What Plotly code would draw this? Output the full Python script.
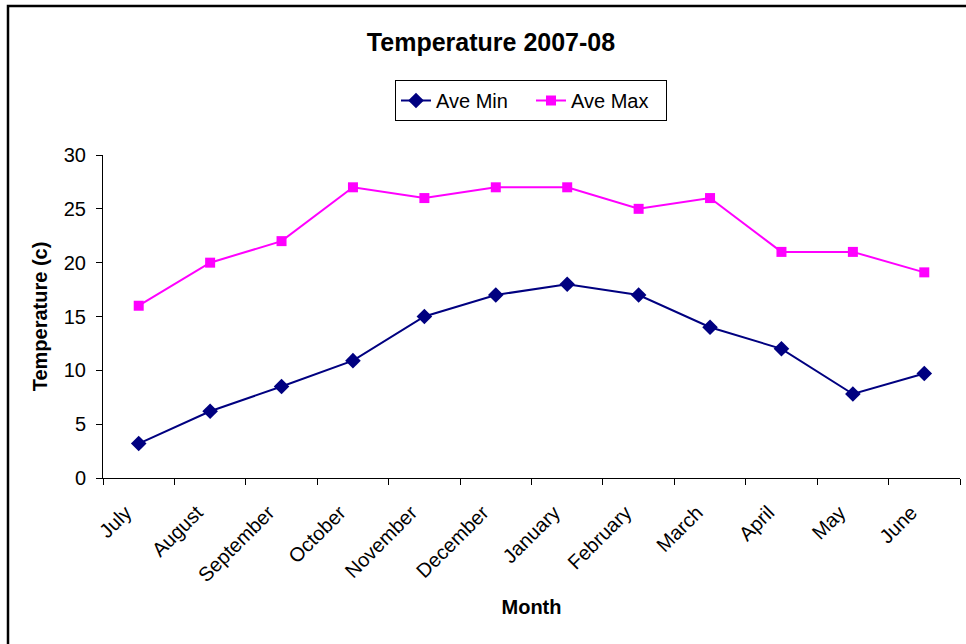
import plotly.graph_objects as go

months = ["July", "August", "September", "October", "November", "December",
          "January", "February", "March", "April", "May", "June"]
ave_min = [3.2, 6.2, 8.5, 10.9, 15.0, 17.0, 18.0, 17.0, 14.0, 12.0, 7.8, 9.7]
ave_max = [16.0, 20.0, 22.0, 27.0, 26.0, 27.0, 27.0, 25.0, 26.0, 21.0, 21.0, 19.1]

W, H = 966, 644
L, R, T, B = 103, 6, 155, 166
pw, ph = W - L - R, H - T - B

font = "Arial, Liberation Sans, sans-serif"

fig = go.Figure()
fig.add_trace(go.Scatter(
    x=months, y=ave_min, name="Ave Min", mode="lines+markers",
    line=dict(color="#000080", width=2),
    marker=dict(symbol="diamond", size=12, color="#000080"),
))
fig.add_trace(go.Scatter(
    x=months, y=ave_max, name="Ave Max", mode="lines+markers",
    line=dict(color="#FF00FF", width=2),
    marker=dict(symbol="square", size=10, color="#FF00FF"),
))

fig.update_layout(
    width=W, height=H,
    margin=dict(l=L, r=R, t=T, b=B, pad=0),
    paper_bgcolor="white", plot_bgcolor="white",
    font=dict(family=font, size=20, color="black"),
    title=dict(text="<b>Temperature 2007-08</b>", xref="container", x=491 / W,
               xanchor="center", yref="container", y=1 - 42 / H, yanchor="middle",
               font=dict(size=25, family=font)),
    legend=dict(orientation="h", xref="paper", yref="paper",
                x=(531 - L) / pw, xanchor="center",
                y=(H - B - 80) / ph, yanchor="top",
                bordercolor="black", borderwidth=1,
                font=dict(size=20), tracegroupgap=0,
                entrywidth=90, entrywidthmode="pixels",
                bgcolor="white"),
    showlegend=True,
)

fig.update_xaxes(
    type="category", range=[-0.5, 11.5], tickson="boundaries",
    showline=True, linecolor="black", linewidth=1,
    ticks="outside", ticklen=6, tickcolor="black", tickwidth=1,
    tickangle=-45, showgrid=False, zeroline=False,
    tickfont=dict(size=20), ticklabelstandoff=14, ticklabelshift=-13,
    title=dict(text="<b>Month</b>", font=dict(size=20), standoff=14),
)
fig.update_yaxes(
    range=[0, 30], tickvals=[0, 5, 10, 15, 20, 25, 30],
    showline=True, linecolor="black", linewidth=1,
    ticks="outside", ticklen=6, tickcolor="black", tickwidth=1,
    showgrid=False, zeroline=False,
    tickfont=dict(size=20), ticklabelstandoff=6,
    title=dict(text="<b>Temperature (c)</b>", font=dict(size=20), standoff=10),
)

# outer chart frame (left and top edges visible)
fig.add_shape(type="rect", xref="paper", yref="paper",
              x0=(8 - L) / pw, x1=(W + 20 - L) / pw,
              y0=(H - B - (H + 20)) / ph, y1=(H - B - 6) / ph,
              line=dict(color="black", width=2.5), fillcolor="rgba(0,0,0,0)",
              layer="below")

fig.write_html("out.html")
